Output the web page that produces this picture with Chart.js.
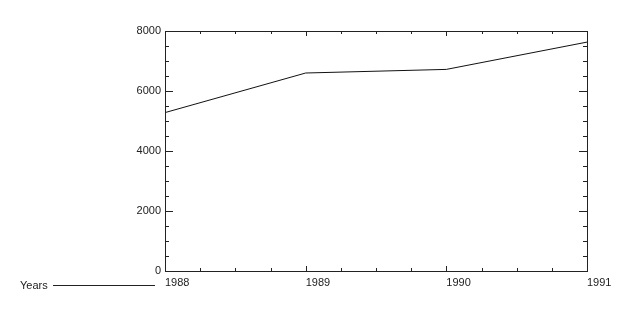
<!DOCTYPE html>
<html>
<head>
<meta charset="utf-8">
<script src="https://cdn.jsdelivr.net/npm/chart.js@4"></script>
<style>
  html, body { margin: 0; padding: 0; background: #fff; }
  #wrap { width: 636px; height: 323px; }
</style>
</head>
<body>
<div id="wrap"><canvas id="chart"></canvas></div>
<script>
// data
const years = [1988, 1989, 1990, 1991];
const values = [5280, 6600, 6720, 7630];
const xTicks = [1988, 1989, 1990, 1991];
const yTicks = [0, 2000, 4000, 6000, 8000];
const xTitle = 'Years';

const ink = '#222';
const font = { family: '"Liberation Sans", Arial, sans-serif', size: 11 };

// box round the plot, with IDL style inward ticks on all four sides
const frame = {
  id: 'frame',
  afterDraw(chart) {
    const { ctx, chartArea: a, scales: { x, y } } = chart;
    ctx.save();
    ctx.strokeStyle = ink;
    ctx.lineWidth = 1;
    ctx.strokeRect(a.left + 0.5, a.top + 0.5, a.right - a.left, a.bottom - a.top);
    ctx.beginPath();
    // y: minor every 500, major every 2000
    for (let v = y.min; v <= y.max; v += 500) {
      const py = Math.round(y.getPixelForValue(v)) + 0.5;
      const len = v % 2000 === 0 ? 8 : 4;
      ctx.moveTo(a.left, py); ctx.lineTo(a.left + len, py);
      ctx.moveTo(a.right, py); ctx.lineTo(a.right - len, py);
    }
    // x: quarters, major every year
    for (let v = x.min; v <= x.max + 1e-6; v += 0.25) {
      const px = Math.round(x.getPixelForValue(v)) + 0.5;
      const len = Number.isInteger(v) ? 5 : 3;
      ctx.moveTo(px, a.bottom); ctx.lineTo(px, a.bottom - len);
      ctx.moveTo(px, a.top); ctx.lineTo(px, a.top + len);
    }
    ctx.stroke();

    // axis title with its leader line, down at the left
    const ty = a.bottom + 15;
    ctx.fillStyle = ink;
    ctx.font = `${font.size}px ${font.family}`;
    ctx.textAlign = 'left';
    ctx.textBaseline = 'middle';
    ctx.fillText(xTitle, 20, ty);
    ctx.beginPath();
    ctx.moveTo(53, Math.round(ty) - 0.5);
    ctx.lineTo(a.left - 10, Math.round(ty) - 0.5);
    ctx.stroke();
    ctx.restore();
  }
};

new Chart(document.getElementById('chart'), {
  type: 'line',
  data: {
    datasets: [{
      data: years.map((yr, i) => ({ x: yr, y: values[i] })),
      borderColor: '#111',
      borderWidth: 1,
      pointRadius: 0,
      tension: 0,
      fill: false
    }]
  },
  options: {
    animation: false,
    responsive: true,
    maintainAspectRatio: false,
    layout: { padding: { left: 0, right: 49, top: 31, bottom: 0 } },
    plugins: { legend: { display: false }, tooltip: { enabled: false } },
    scales: {
      x: {
        type: 'linear',
        min: xTicks[0],
        max: xTicks[xTicks.length - 1],
        afterBuildTicks: s => { s.ticks = xTicks.map(v => ({ value: v })); },
        afterFit: s => { s.height = 52; },
        grid: { display: false, drawTicks: false },
        border: { display: false },
        ticks: {
          align: 'start',
          padding: 5,
          color: ink,
          font,
          maxRotation: 0,
          callback: v => String(v)
        }
      },
      y: {
        min: yTicks[0],
        max: yTicks[yTicks.length - 1],
        afterBuildTicks: s => { s.ticks = yTicks.map(v => ({ value: v })); },
        afterFit: s => { s.width = 165; },
        grid: { display: false, drawTicks: false },
        border: { display: false },
        ticks: {
          padding: 4,
          color: ink,
          font,
          callback: v => String(v)
        }
      }
    }
  },
  plugins: [frame]
});
</script>
</body>
</html>
